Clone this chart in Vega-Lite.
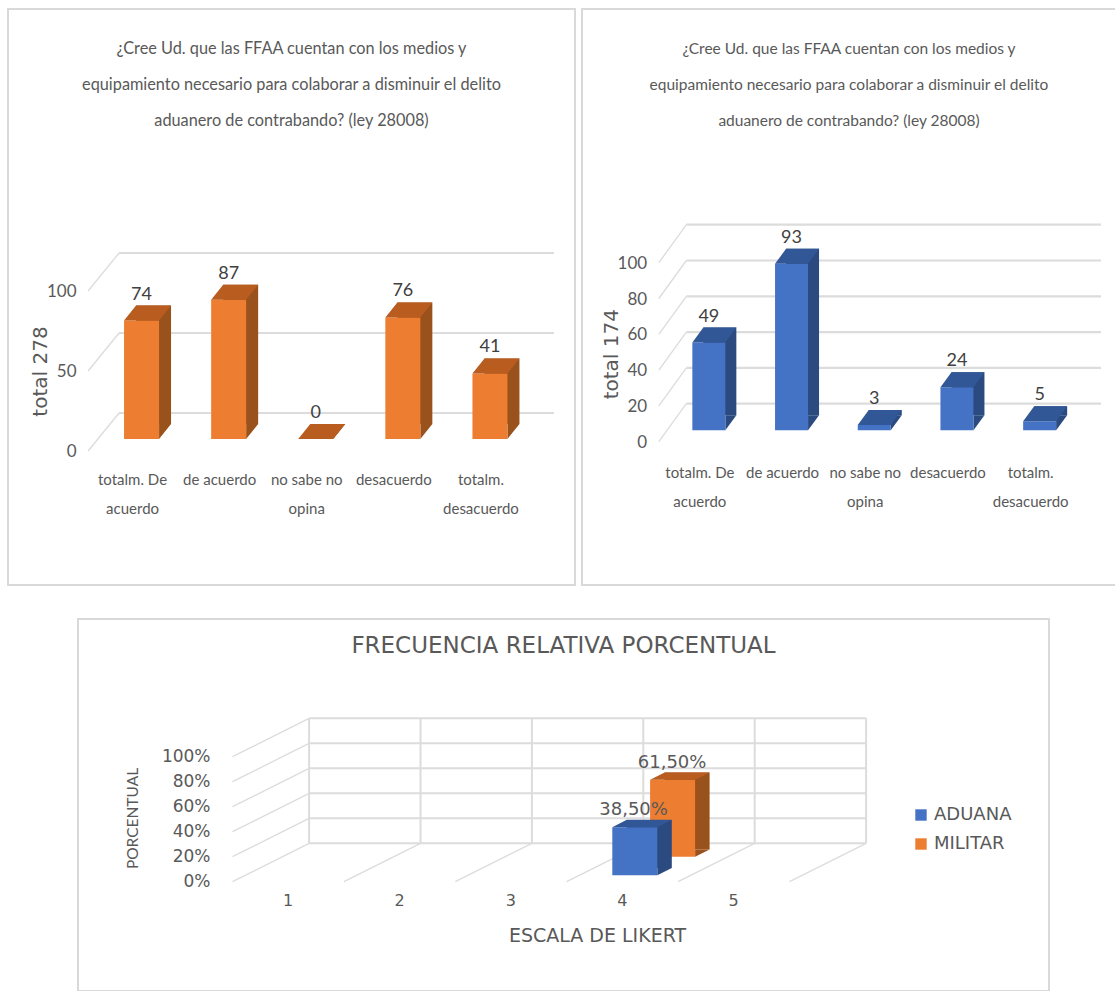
{
"$schema":"https://vega.github.io/schema/vega-lite/v6.json",
"padding":{"left":7,"top":8,"right":0,"bottom":0},
"background":"white",
"config":{"view":{"stroke":"#d9d9d9","strokeWidth":2},"text":{"color":"#404040"}},
"datasets":{
"militar":[{"cat":"totalm. De acuerdo","valor":74},{"cat":"de acuerdo","valor":87},{"cat":"no sabe no opina","valor":0},{"cat":"desacuerdo","valor":76},{"cat":"totalm. desacuerdo","valor":41}],
"aduana":[{"cat":"totalm. De acuerdo","valor":49},{"cat":"de acuerdo","valor":93},{"cat":"no sabe no opina","valor":3},{"cat":"desacuerdo","valor":24},{"cat":"totalm. desacuerdo","valor":5}],
"likert":[{"escala":"4","serie":"ADUANA","porcentaje":38.5,"etiqueta":"38,50%"},{"escala":"4","serie":"MILITAR","porcentaje":61.5,"etiqueta":"61,50%"}]
},
"vconcat":[
{"hconcat":[
{"width":567,"height":576,
"title":{"text":["¿Cree Ud. que las FFAA cuentan con los medios y","equipamiento necesario para colaborar a disminuir el delito","aduanero de contrabando? (ley 28008)"],"anchor":"middle","frame":"group","offset":-120,"font":"Lato","fontSize":16.3,"fontWeight":"normal","color":"#595959","lineHeight":36},
"layer":[
{"data":{"values":[{"t":0},{"t":50},{"t":100}]},
"mark":{"type":"point","shape":"M-53.5,12L-22.5,-26","size":4,"filled":false,"stroke":"#dcdcdc","strokeWidth":1.3,"opacity":1},
"encoding":{
"x":{"datum":"totalm. De acuerdo","type":"nominal","scale":{"domain":["totalm. De acuerdo","de acuerdo","no sabe no opina","desacuerdo","totalm. desacuerdo"],"range":[90,525.5],"padding":0},
"axis":{"title":null,"domain":false,"ticks":false,"grid":false,"labelAngle":0,"labelOffset":-9,"offset":-113,"labelPadding":0,"labelBaseline":"top","labelFont":"Lato","labelFontSize":15,"labelColor":"#595959","labelLineHeight":29,"labelExpr":"datum.label=='totalm. De acuerdo'?['totalm. De','acuerdo']:datum.label=='no sabe no opina'?['no sabe no','opina']:datum.label=='totalm. desacuerdo'?['totalm.','desacuerdo']:datum.label"}},
"y":{"field":"t","type":"quantitative","scale":{"domain":[0,100],"range":[430,270],"nice":false},
"axis":{"title":"total 278","values":[0,50,100],"domain":false,"ticks":false,"grid":false,"offset":-68,"labelPadding":0,"labelOffset":12,"labelFont":"Lato","labelFontSize":17,"labelColor":"#595959","titleFont":"DejaVu Sans","titleFontSize":20,"titleFontWeight":"normal","titleColor":"#595959","titleX":-36,"titleY":362,"titleAlign":"center","titleBaseline":"middle"}}}},
{"data":{"values":[{"t":0},{"t":50},{"t":100}]},
"mark":{"type":"point","shape":"M-22.5,-26L412.5,-26","size":4,"filled":false,"stroke":"#dcdcdc","strokeWidth":2.2,"opacity":1},
"encoding":{"x":{"datum":"totalm. De acuerdo","type":"nominal"},"y":{"field":"t","type":"quantitative"}}},
{"data":{"name":"militar"},"mark":{"type":"bar","width":35,"xOffset":12,"yOffset":-15,"y2Offset":-15,"fill":"#9a521c"},
"encoding":{"x":{"field":"cat","type":"nominal"},"y":{"field":"valor","type":"quantitative"},"y2":{"datum":0}}},
{"data":{"name":"militar"},"mark":{"type":"point","shape":"M17.5,0L29.5,-15L17.5,-15Z","size":4,"filled":true,"fill":"#9a521c","opacity":1,"strokeWidth":0},
"encoding":{"x":{"field":"cat","type":"nominal"},"y":{"datum":0,"type":"quantitative"}}},
{"data":{"name":"militar"},"mark":{"type":"bar","width":35,"fill":"#ed7d31"},
"encoding":{"x":{"field":"cat","type":"nominal"},"y":{"field":"valor","type":"quantitative"}}},
{"data":{"name":"militar"},"mark":{"type":"point","shape":"M-17.5,0L17.5,0L29.5,-15L-5.5,-15Z","size":4,"filled":true,"fill":"#b85c20","opacity":1,"strokeWidth":0},
"encoding":{"x":{"field":"cat","type":"nominal"},"y":{"field":"valor","type":"quantitative"}}},
{"data":{"name":"militar"},"mark":{"type":"text","yOffset":-26,"font":"Lato","fontSize":18,"fill":"#404040"},
"encoding":{"x":{"field":"cat","type":"nominal"},"y":{"field":"valor","type":"quantitative"},"text":{"field":"valor","type":"quantitative"}}}
]},
{"width":534,"height":576,
"title":{"text":["¿Cree Ud. que las FFAA cuentan con los medios y","equipamiento necesario para colaborar a disminuir el delito","aduanero de contrabando? (ley 28008)"],"anchor":"middle","frame":"group","offset":-120,"font":"Lato","fontSize":15.5,"fontWeight":"normal","color":"#595959","lineHeight":36},
"layer":[
{"data":{"values":[{"t":0},{"t":20},{"t":40},{"t":60},{"t":80},{"t":100}]},
"mark":{"type":"point","shape":"M-50,11.4L-22.5,-26.6","size":4,"filled":false,"stroke":"#dcdcdc","strokeWidth":1.3,"opacity":1},
"encoding":{
"x":{"datum":"totalm. De acuerdo","type":"nominal","scale":{"domain":["totalm. De acuerdo","de acuerdo","no sabe no opina","desacuerdo","totalm. desacuerdo"],"range":[85.5,499],"padding":0},
"axis":{"title":null,"domain":false,"ticks":false,"grid":false,"labelAngle":0,"labelOffset":-9,"offset":-120,"labelPadding":0,"labelBaseline":"top","labelFont":"Lato","labelFontSize":15,"labelColor":"#595959","labelLineHeight":29,"labelExpr":"datum.label=='totalm. De acuerdo'?['totalm. De','acuerdo']:datum.label=='no sabe no opina'?['no sabe no','opina']:datum.label=='totalm. desacuerdo'?['totalm.','desacuerdo']:datum.label"}},
"y":{"field":"t","type":"quantitative","scale":{"domain":[0,100],"range":[421.3,242.3],"nice":false},
"axis":{"title":"total 174","values":[0,20,40,60,80,100],"domain":false,"ticks":false,"grid":false,"offset":-64.7,"labelPadding":0,"labelOffset":12,"labelFont":"Lato","labelFontSize":17,"labelColor":"#595959","titleFont":"DejaVu Sans","titleFontSize":20,"titleFontWeight":"normal","titleColor":"#595959","titleX":-35,"titleY":344.7,"titleAlign":"center","titleBaseline":"middle"}}}},
{"data":{"values":[{"t":0},{"t":20},{"t":40},{"t":60},{"t":80},{"t":100}]},
"mark":{"type":"point","shape":"M-22.5,-26.6L392.2,-26.6","size":4,"filled":false,"stroke":"#dcdcdc","strokeWidth":2.2,"opacity":1},
"encoding":{"x":{"datum":"totalm. De acuerdo","type":"nominal"},"y":{"field":"t","type":"quantitative"}}},
{"data":{"name":"aduana"},"mark":{"type":"bar","width":33,"xOffset":11,"yOffset":-15,"y2Offset":-15,"fill":"#2a4a80"},
"encoding":{"x":{"field":"cat","type":"nominal"},"y":{"field":"valor","type":"quantitative"},"y2":{"datum":0}}},
{"data":{"name":"aduana"},"mark":{"type":"point","shape":"M16.5,0L27.5,-15L16.5,-15Z","size":4,"filled":true,"fill":"#2a4a80","opacity":1,"strokeWidth":0},
"encoding":{"x":{"field":"cat","type":"nominal"},"y":{"datum":0,"type":"quantitative"}}},
{"data":{"name":"aduana"},"mark":{"type":"bar","width":33,"fill":"#4472c4"},
"encoding":{"x":{"field":"cat","type":"nominal"},"y":{"field":"valor","type":"quantitative"}}},
{"data":{"name":"aduana"},"mark":{"type":"point","shape":"M-16.5,0L16.5,0L27.5,-15L-5.5,-15Z","size":4,"filled":true,"fill":"#325796","opacity":1,"strokeWidth":0},
"encoding":{"x":{"field":"cat","type":"nominal"},"y":{"field":"valor","type":"quantitative"}}},
{"data":{"name":"aduana"},"mark":{"type":"text","yOffset":-26,"font":"Lato","fontSize":18,"fill":"#404040"},
"encoding":{"x":{"field":"cat","type":"nominal"},"y":{"field":"valor","type":"quantitative"},"text":{"field":"valor","type":"quantitative"}}}
]}
],"spacing":7,"bounds":"flush"},
{"hconcat":[
{"width":70,"height":10,"view":{"stroke":null},"data":{"values":[]},"mark":"point","encoding":{}},
{"width":971,"height":372,
"title":{"text":"FRECUENCIA RELATIVA PORCENTUAL","anchor":"middle","frame":"group","offset":-39,"font":"DejaVu Sans","fontSize":23,"fontWeight":"normal","color":"#595959"},
"layer":[
{"data":{"values":[{"t":0},{"t":20},{"t":40},{"t":60},{"t":80},{"t":100}]},
"mark":{"type":"point","shape":"M-55.6,0L21,-38.4","size":4,"filled":false,"stroke":"#dcdcdc","strokeWidth":1.3,"opacity":1},
"encoding":{
"x":{"datum":"1","type":"nominal","scale":{"domain":["1","2","3","4","5"],"range":[154.4,711.4],"padding":0},
"axis":{"title":"ESCALA DE LIKERT","domain":false,"ticks":false,"grid":false,"labelAngle":0,"offset":-90.3,"labelPadding":0,"labelBaseline":"middle","labelFont":"DejaVu Sans","labelFontSize":16,"labelColor":"#595959","titleFont":"DejaVu Sans","titleFontSize":19,"titleFontWeight":"normal","titleColor":"#595959","titleX":519,"titleY":34.3,"titleAlign":"center","titleBaseline":"middle"}},
"y":{"field":"t","type":"quantitative","scale":{"domain":[0,100],"range":[262.7,137.7],"nice":false},
"axis":{"title":"PORCENTUAL","values":[0,20,40,60,80,100],"labelExpr":"datum.value+'%'","domain":false,"ticks":false,"grid":false,"offset":-132,"labelPadding":0,"labelFont":"DejaVu Sans","labelFontSize":17,"labelColor":"#595959","titleFont":"Lato","titleFontSize":15.5,"titleFontWeight":"normal","titleColor":"#595959","titleX":-78,"titleY":199,"titleAlign":"center","titleBaseline":"middle"}}}},
{"data":{"values":[{"t":0},{"t":20},{"t":40},{"t":60},{"t":80},{"t":100}]},
"mark":{"type":"point","shape":"M21,-38.4L578,-38.4","size":4,"filled":false,"stroke":"#dcdcdc","strokeWidth":2,"opacity":1},
"encoding":{"x":{"datum":"1","type":"nominal"},"y":{"field":"t","type":"quantitative"}}},
{"data":{"values":[{"t":0}]},
"mark":{"type":"point","shape":"M55.8,0L132.4,-38.4M167.2,0L243.8,-38.4M278.6,0L355.2,-38.4M390,0L466.6,-38.4M501.4,0L578,-38.4","size":4,"filled":false,"stroke":"#dcdcdc","strokeWidth":1.3,"opacity":1},
"encoding":{"x":{"datum":"1","type":"nominal"},"y":{"field":"t","type":"quantitative"}}},
{"data":{"values":[{"t":0}]},
"mark":{"type":"point","shape":"M21,-38.4L21,-163.4M132.4,-38.4L132.4,-163.4M243.8,-38.4L243.8,-163.4M355.2,-38.4L355.2,-163.4M466.6,-38.4L466.6,-163.4M578,-38.4L578,-163.4","size":4,"filled":false,"stroke":"#dcdcdc","strokeWidth":2,"opacity":1},
"encoding":{"x":{"datum":"1","type":"nominal"},"y":{"field":"t","type":"quantitative"}}},
{"data":{"name":"likert"},"transform":[{"filter":"datum.serie=='MILITAR'"}],"mark":{"type":"bar","width":45,"xOffset":64.8,"yOffset":-32.3,"y2Offset":-32.3,"fill":"#9a521c"},
"encoding":{"x":{"field":"escala","type":"nominal"},"y":{"field":"porcentaje","type":"quantitative","stack":null},"y2":{"datum":0}}},
{"data":{"name":"likert"},"transform":[{"filter":"datum.serie=='MILITAR'"}],"mark":{"type":"point","shape":"M22.5,0L37,-7.3L22.5,-7.3Z","size":4,"filled":true,"fill":"#9a521c","opacity":1,"strokeWidth":0,"xOffset":50.3,"yOffset":-25},
"encoding":{"x":{"field":"escala","type":"nominal"},"y":{"datum":0,"type":"quantitative"}}},
{"data":{"name":"likert"},"transform":[{"filter":"datum.serie=='MILITAR'"}],"mark":{"type":"bar","width":45,"xOffset":50.3,"yOffset":-25,"y2Offset":-25},
"encoding":{"x":{"field":"escala","type":"nominal"},"y":{"field":"porcentaje","type":"quantitative","stack":null},"y2":{"datum":0},
"color":{"field":"serie","type":"nominal","scale":{"domain":["ADUANA","MILITAR"],"range":["#4472c4","#ed7d31"]},
"legend":{"title":null,"orient":"none","legendX":904,"legendY":797,"symbolType":"square","symbolSize":130,"rowPadding":11,"labelFont":"DejaVu Sans","labelFontSize":18,"labelColor":"#595959","symbolStrokeWidth":0}}}},
{"data":{"name":"likert"},"transform":[{"filter":"datum.serie=='MILITAR'"}],"mark":{"type":"point","shape":"M-22.5,0L22.5,0L37,-7.3L-8,-7.3Z","size":4,"filled":true,"fill":"#b85c20","opacity":1,"strokeWidth":0,"xOffset":50.3,"yOffset":-25},
"encoding":{"x":{"field":"escala","type":"nominal"},"y":{"field":"porcentaje","type":"quantitative"}}},
{"data":{"name":"likert"},"transform":[{"filter":"datum.serie=='MILITAR'"}],"mark":{"type":"text","font":"DejaVu Sans","fontSize":18,"fill":"#595959","xOffset":49.8,"yOffset":-41.5},
"encoding":{"x":{"field":"escala","type":"nominal"},"y":{"field":"porcentaje","type":"quantitative"},"text":{"field":"etiqueta","type":"nominal"}}},
{"data":{"name":"likert"},"transform":[{"filter":"datum.serie=='ADUANA'"}],"mark":{"type":"bar","width":45,"xOffset":27,"yOffset":-13.7,"y2Offset":-13.7,"fill":"#2a4a80"},
"encoding":{"x":{"field":"escala","type":"nominal"},"y":{"field":"porcentaje","type":"quantitative","stack":null},"y2":{"datum":0}}},
{"data":{"name":"likert"},"transform":[{"filter":"datum.serie=='ADUANA'"}],"mark":{"type":"point","shape":"M22.5,0L37,-7.3L22.5,-7.3Z","size":4,"filled":true,"fill":"#2a4a80","opacity":1,"strokeWidth":0,"xOffset":12.5,"yOffset":-6.4},
"encoding":{"x":{"field":"escala","type":"nominal"},"y":{"datum":0,"type":"quantitative"}}},
{"data":{"name":"likert"},"transform":[{"filter":"datum.serie=='ADUANA'"}],"mark":{"type":"bar","width":45,"xOffset":12.5,"yOffset":-6.4,"y2Offset":-6.4},
"encoding":{"x":{"field":"escala","type":"nominal"},"y":{"field":"porcentaje","type":"quantitative","stack":null},"y2":{"datum":0},
"color":{"field":"serie","type":"nominal"}}},
{"data":{"name":"likert"},"transform":[{"filter":"datum.serie=='ADUANA'"}],"mark":{"type":"point","shape":"M-22.5,0L22.5,0L37,-7.3L-8,-7.3Z","size":4,"filled":true,"fill":"#325796","opacity":1,"strokeWidth":0,"xOffset":12.5,"yOffset":-6.4},
"encoding":{"x":{"field":"escala","type":"nominal"},"y":{"field":"porcentaje","type":"quantitative"}}},
{"data":{"name":"likert"},"transform":[{"filter":"datum.serie=='ADUANA'"}],"mark":{"type":"text","font":"DejaVu Sans","fontSize":18,"fill":"#595959","xOffset":11.3,"yOffset":-23.6},
"encoding":{"x":{"field":"escala","type":"nominal"},"y":{"field":"porcentaje","type":"quantitative"},"text":{"field":"etiqueta","type":"nominal"}}}
]}
],"spacing":0,"bounds":"flush"}
],"spacing":32}
